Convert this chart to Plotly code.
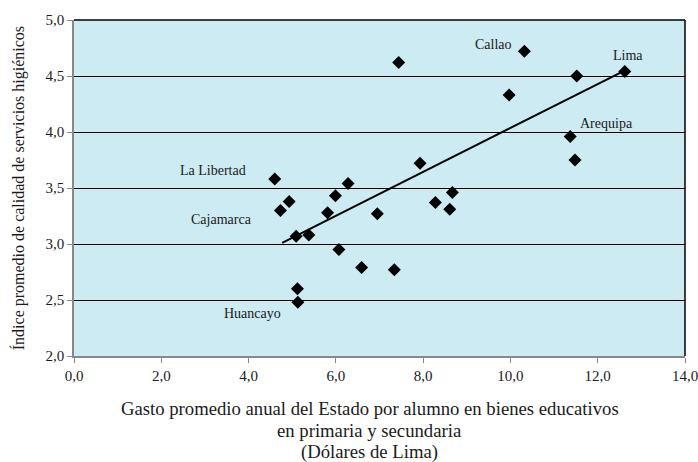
import plotly.graph_objects as go

# Data
gasto = [4.60, 4.93, 4.73, 5.99, 6.28, 5.81, 6.95, 7.93, 5.09, 5.38, 6.07, 6.59, 7.34,
         5.12, 5.13, 8.28, 8.61, 8.67, 10.32, 11.52, 12.62, 9.97, 11.37, 11.48, 7.44]
indice = [3.58, 3.38, 3.30, 3.43, 3.54, 3.28, 3.27, 3.72, 3.07, 3.08, 2.95, 2.79, 2.77,
          2.60, 2.48, 3.37, 3.31, 3.46, 4.72, 4.50, 4.54, 4.33, 3.96, 3.75, 4.62]

trend_x = [4.77, 12.57]
trend_y = [3.01, 4.54]

label_text = ["Callao", "Lima", "Arequipa", "La Libertad", "Cajamarca", "Huancayo"]
label_x = [9.62, 12.69, 12.19, 3.19, 3.37, 4.09]
label_y = [4.78, 4.68, 4.08, 3.66, 3.22, 2.38]

x_ticks = [0, 2, 4, 6, 8, 10, 12, 14]
y_ticks = [2.0, 2.5, 3.0, 3.5, 4.0, 4.5, 5.0]

x_title_lines = ["Gasto promedio anual del Estado por alumno en bienes educativos",
                 "en primaria y secundaria",
                 "(Dólares de Lima)"]
y_title = "Índice promedio de calidad de servicios higiénicos"

FONT = "Liberation Serif"
TXT = "#1a1a1a"

fig = go.Figure()
fig.add_trace(go.Scatter(x=trend_x, y=trend_y, mode="lines",
                         line=dict(color="black", width=2), hoverinfo="skip"))
fig.add_trace(go.Scatter(x=gasto, y=indice, mode="markers",
                         marker=dict(symbol="diamond", size=10, color="black")))

for t, x, y in zip(label_text, label_x, label_y):
    fig.add_annotation(x=x, y=y, text=t, showarrow=False,
                       font=dict(family=FONT, size=14, color=TXT))

# x-axis title lines (tight line spacing as in the reference)
for i, line in enumerate(x_title_lines):
    fig.add_annotation(xref="paper", yref="paper", x=0.4844, y=-0.1577 - i * 0.064,
                       text=line, showarrow=False, xanchor="center", yanchor="middle",
                       font=dict(family=FONT, size=18.7, color=TXT))

fig.add_annotation(xref="paper", yref="paper", x=-0.0918, y=0.499, text=y_title,
                   textangle=-90, showarrow=False, xanchor="center", yanchor="middle",
                   font=dict(family=FONT, size=16, color=TXT))

fig.add_shape(type="line", xref="paper", yref="paper", x0=0, x1=1, y0=1, y1=1,
              line=dict(color="black", width=1.5))
fig.add_shape(type="line", xref="paper", yref="paper", x0=1, x1=1, y0=0, y1=1,
              line=dict(color="black", width=1.5))

fig.update_layout(
    width=698, height=462,
    margin=dict(l=74, r=13, t=20, b=106, autoexpand=False),
    paper_bgcolor="white",
    plot_bgcolor="#CDEBF2",
    showlegend=False,
    separators=",.",
    font=dict(family=FONT, size=15, color=TXT),
    xaxis=dict(
        range=[0, 14], tickvals=x_ticks, tickformat=".1f",
        showgrid=False, zeroline=False, automargin=False,
        showline=True, linecolor="#888", linewidth=1.5,
        ticks="outside", ticklen=5, tickcolor="#888",
        ticklabeloverflow="allow",
        tickfont=dict(family=FONT, size=15, color=TXT),
    ),
    yaxis=dict(
        range=[2, 5], tickvals=y_ticks, tickformat=".1f",
        showgrid=True, gridcolor="black", gridwidth=1,
        zeroline=False, automargin=False,
        showline=True, linecolor="#888", linewidth=1.5,
        ticks="outside", ticklen=5, tickcolor="#888",
        ticklabeloverflow="allow",
        tickfont=dict(family=FONT, size=15, color=TXT),
    ),
)

fig.write_html("out.html", config={"displayModeBar": False},
               post_script="document.body.style.margin='0px';")
